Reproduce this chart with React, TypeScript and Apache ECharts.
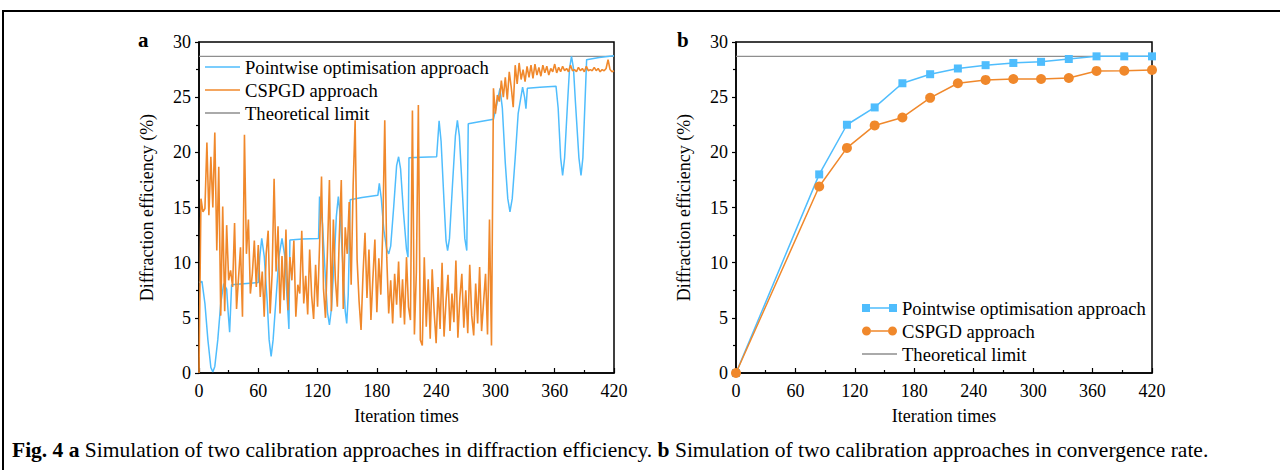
import React, { useEffect, useRef } from "react";
import * as echarts from "echarts";

const FONT = "Liberation Serif";
const BLUE = "#4FBDFD";
const ORANGE = "#F0882B";
const GREY = "#8E8E8E";

const SERIES_NAMES = ["Pointwise optimisation approach", "CSPGD approach", "Theoretical limit"];
const THEORETICAL_LIMIT = 28.7;
const X_MAX = 420;

// Panel a: pointwise optimisation (iteration, efficiency)
const pointwiseA: [number, number][] = [
  [0, 8.2], [3, 8.3], [6, 6.3], [9, 3.0], [12, 0.5], [14, 0.1], [16, 0.6], [19, 3.0], [22, 6.3], [25, 8.1],
  [28, 7.6], [29.5, 5.5], [31, 3.7], [33, 8.0], [45, 8.1], [60, 8.2],
  [61.5, 10.5], [63.5, 12.2], [66, 10.6], [69, 6.5], [71, 3.0], [73, 1.5], [75, 3.0], [78, 6.8], [81, 10.6], [84, 12.2],
  [87, 10.5], [89, 7.0], [91, 4.0], [92, 12.05], [105, 12.15], [121, 12.2],
  [122, 16.0], [125, 13.5], [128, 8.5], [130, 5.5], [132, 4.35], [134, 5.8], [137, 10.5], [139, 14.2], [141, 16.0],
  [143, 14.2], [146, 9.0], [148, 5.6], [149.5, 4.5], [151, 7.0], [152, 11.0], [153, 15.7],
  [165, 15.9], [181, 16.1], [182.5, 17.2], [184.5, 15.8], [187, 13.0], [190, 11.2], [192, 10.8], [194, 11.5],
  [197, 15.0], [200, 18.8], [202, 19.6], [204, 18.5], [207, 14.5], [210, 11.2], [211.5, 10.5], [212.5, 19.5],
  [225, 19.55], [240.5, 19.6],
  [243, 22.85], [245, 21.0], [248, 15.5], [250, 12.0], [251.6, 11.1], [253.5, 12.2], [256.5, 17.0], [259.5, 21.5],
  [261.5, 22.9], [263.5, 21.5], [266.5, 16.5], [269, 12.2], [271, 11.1], [272.5, 22.6], [285, 22.8], [298, 23.0],
  [301, 24.2], [304.6, 25.8], [307, 24.0], [310, 19.0], [312.5, 15.8], [314.7, 14.6], [317, 15.8], [320, 19.5],
  [323, 23.5], [327.5, 25.9], [329.5, 25.0], [330.9, 23.95], [332.3, 25.8], [345, 25.9], [361.3, 26.0],
  [363.5, 24.0], [366, 19.5], [368, 17.9], [370, 19.5], [373, 24.5], [375, 27.6], [377, 28.7], [379, 27.6],
  [381, 24.5], [384.5, 19.5], [386.6, 17.9], [388.5, 19.5], [392.3, 28.4], [405, 28.6], [420, 28.75],
];

// Panel a: CSPGD, one value every 2 iterations from 0 to 420
const CSPGD_STEP = 2;
const cspgdA: number[] = [
  0, 15.8, 14.6, 14.9, 20.9, 14.3, 19.6, 15.0, 21.8, 11.1,
  18.7, 5.2, 15.1, 5.6, 13.4, 8.4, 9.3, 7.8, 13.6, 5.8,
  8.6, 11.4, 5.1, 21.6, 10.8, 13.9, 7.2, 9.0, 12.0, 7.8,
  11.6, 6.9, 9.2, 5.1, 10.8, 12.9, 5.4, 9.0, 17.6, 9.2,
  13.3, 5.4, 10.6, 6.6, 13.0, 5.7, 10.5, 8.4, 12.0, 5.1,
  8.0, 7.2, 12.9, 6.3, 8.8, 5.3, 11.2, 7.0, 4.9, 9.8,
  6.0, 11.5, 17.8, 7.6, 5.0, 11.0, 17.5, 5.6, 13.9, 8.5,
  6.0, 12.4, 17.5, 5.8, 13.2, 10.8, 15.5, 8.0, 17.0, 22.9,
  10.3, 6.5, 3.9, 9.0, 12.7, 6.8, 11.2, 4.8, 8.6, 12.1,
  5.5, 10.4, 7.1, 13.0, 22.9, 10.5, 5.4, 8.4, 4.5, 9.0,
  6.2, 10.1, 5.0, 8.5, 4.4, 10.5, 6.0, 4.8, 23.8, 3.5,
  9.2, 24.3, 3.0, 2.5, 10.5, 4.2, 8.5, 3.1, 9.4, 5.5,
  2.7, 7.8, 4.0, 10.0, 3.3, 6.5, 8.9, 3.8, 7.2, 4.6,
  10.2, 3.2, 6.8, 9.0, 4.1, 7.5, 3.6, 9.8, 5.2, 3.4,
  8.1, 4.5, 9.6, 3.8, 6.4, 9.0, 3.5, 13.9, 2.5,
  25.8, 23.5, 25.2, 24.6, 26.5, 25.0, 26.8, 24.8, 27.3, 25.9,
  24.1, 27.9, 26.2, 28.1, 26.6, 27.5, 26.4, 27.8, 26.8, 27.9,
  26.7, 28.0, 27.0, 27.7, 26.9, 27.9, 27.2, 27.8, 27.0, 27.6,
  27.3, 28.0, 27.2, 27.7, 27.3, 27.8, 27.4, 27.6, 27.3, 27.9,
  27.4, 27.5, 27.3, 27.7, 27.4, 27.6, 27.3, 27.8, 27.4, 27.5,
  27.4, 27.7, 27.4, 27.6, 27.3, 27.5, 27.4, 27.6, 28.4, 27.5,
  27.3, 27.4,
];

// Panel b: convergence rate
const iterationsB = [0, 84, 112, 140, 168, 196, 224, 252, 280, 308, 336, 364, 392, 420];
const pointwiseB = [0, 18.0, 22.5, 24.07, 26.26, 27.08, 27.6, 27.9, 28.1, 28.2, 28.46, 28.7, 28.7, 28.7];
const cspgdB = [0, 16.9, 20.4, 22.44, 23.16, 24.94, 26.26, 26.56, 26.65, 26.65, 26.74, 27.38, 27.4, 27.47];

const textBase = { fontFamily: FONT, color: "#000" };

function makeXAxis(gridIndex: number) {
  return {
    type: "value",
    gridIndex,
    min: 0,
    max: X_MAX,
    interval: 60,
    name: "Iteration times",
    nameLocation: "middle",
    nameGap: 34,
    nameTextStyle: { ...textBase, fontSize: 18 },
    axisLine: { show: true, onZero: false, lineStyle: { color: "#000", width: 1.5 } },
    axisTick: { show: true, inside: true, length: 5, lineStyle: { color: "#000", width: 1.2 } },
    minorTick: { show: true, splitNumber: 2, length: 3, lineStyle: { color: "#000", width: 1.2 } },
    splitLine: { show: false },
    axisLabel: { ...textBase, fontSize: 18, margin: 9 },
  };
}

function makeYAxis(gridIndex: number) {
  return {
    type: "value",
    gridIndex,
    min: 0,
    max: 30,
    interval: 5,
    name: "Diffraction efficiency (%)",
    nameLocation: "middle",
    nameGap: 43,
    nameTextStyle: { ...textBase, fontSize: 18 },
    axisLine: { show: true, onZero: false, lineStyle: { color: "#000", width: 1.5 } },
    axisTick: { show: true, inside: false, length: 4, lineStyle: { color: "#000", width: 1.2 } },
    minorTick: { show: true, splitNumber: 2, length: 3, lineStyle: { color: "#000", width: 1.2 } },
    splitLine: { show: false },
    axisLabel: { ...textBase, fontSize: 18, margin: 8 },
  };
}

const LINE_ICON = "path://M0,0h35v1.5h-35z";
const SQUARE_ICON = "path://M0,0.5h8v8h-8z M8,3.75h19v1.5h-19z M27,0.5h8v8h-8z";
const CIRCLE_ICON =
  "path://M0,4.5a4.5,4.5 0 1,0 9,0a4.5,4.5 0 1,0 -9,0z M9,3.75h17v1.5h-17z M26,4.5a4.5,4.5 0 1,0 9,0a4.5,4.5 0 1,0 -9,0z";

export default function App() {
  const ref = useRef<HTMLDivElement>(null);

  useEffect(() => {
    if (!ref.current) return;
    const chart = echarts.init(ref.current, undefined, { renderer: "svg" });

    const cspgdPairs = cspgdA.map((v, i) => [i * CSPGD_STEP, v]);
    const limitPairs = [
      [0, THEORETICAL_LIMIT],
      [X_MAX, THEORETICAL_LIMIT],
    ];

    const legendText = { ...textBase, fontSize: 18.6, lineHeight: 20 };

    const option: any = {
      animation: false,
      backgroundColor: "#fff",
      textStyle: { fontFamily: FONT },
      grid: [
        { left: 199, top: 42, width: 415, height: 331, show: true, borderColor: "#000", borderWidth: 1.5, backgroundColor: "transparent" },
        { left: 736, top: 42, width: 416, height: 331, show: true, borderColor: "#000", borderWidth: 1.5, backgroundColor: "transparent" },
      ],
      xAxis: [makeXAxis(0), makeXAxis(1)],
      yAxis: [makeYAxis(0), makeYAxis(1)],
      legend: [
        {
          left: 205,
          top: 57,
          orient: "vertical",
          padding: 0,
          itemGap: 3,
          itemWidth: 35,
          itemHeight: 9,
          selectedMode: false,
          textStyle: legendText,
          data: SERIES_NAMES.map((n) => ({ name: n, icon: LINE_ICON })),
        },
        {
          left: 862,
          top: 298,
          orient: "vertical",
          padding: 0,
          itemGap: 3,
          itemWidth: 35,
          itemHeight: 9,
          selectedMode: false,
          textStyle: legendText,
          data: [
            { name: SERIES_NAMES[0], icon: SQUARE_ICON },
            { name: SERIES_NAMES[1], icon: CIRCLE_ICON },
            { name: SERIES_NAMES[2], icon: LINE_ICON },
          ],
        },
      ],
      series: [
        {
          name: SERIES_NAMES[0], type: "line", xAxisIndex: 0, yAxisIndex: 0, data: pointwiseA,
          symbol: "none", color: BLUE, lineStyle: { color: BLUE, width: 1.5 }, z: 2,
        },
        {
          name: SERIES_NAMES[1], type: "line", xAxisIndex: 0, yAxisIndex: 0, data: cspgdPairs,
          symbol: "none", color: ORANGE, lineStyle: { color: ORANGE, width: 1.6 }, z: 3,
        },
        {
          name: SERIES_NAMES[2], type: "line", xAxisIndex: 0, yAxisIndex: 0, data: limitPairs,
          symbol: "none", color: GREY, lineStyle: { color: GREY, width: 1.3 }, z: 1,
        },
        {
          name: SERIES_NAMES[0], type: "line", xAxisIndex: 1, yAxisIndex: 1,
          data: iterationsB.map((x, i) => [x, pointwiseB[i]]),
          symbol: "rect", symbolSize: 8, color: BLUE, lineStyle: { color: BLUE, width: 1.5 },
          itemStyle: { color: BLUE }, clip: false, z: 3,
        },
        {
          name: SERIES_NAMES[1], type: "line", xAxisIndex: 1, yAxisIndex: 1,
          data: iterationsB.map((x, i) => [x, cspgdB[i]]),
          symbol: "circle", symbolSize: 10, color: ORANGE, lineStyle: { color: ORANGE, width: 1.5 },
          itemStyle: { color: ORANGE }, clip: false, z: 3,
        },
        {
          name: SERIES_NAMES[2], type: "line", xAxisIndex: 1, yAxisIndex: 1, data: limitPairs,
          symbol: "none", color: GREY, lineStyle: { color: GREY, width: 1.3 }, z: 1,
        },
      ],
      graphic: [
        {
          type: "rect",
          silent: true,
          shape: { x: 3, y: 11, width: 1300, height: 500 },
          style: { fill: "none", stroke: "#000", lineWidth: 2 },
        },
        {
          type: "text",
          left: 138,
          top: 29,
          style: { text: "a", fontFamily: FONT, fontSize: 21, fontWeight: "bold", fill: "#000" },
        },
        {
          type: "text",
          left: 677,
          top: 29,
          style: { text: "b", fontFamily: FONT, fontSize: 21, fontWeight: "bold", fill: "#000" },
        },
        {
          type: "text",
          left: 12,
          top: 439,
          style: {
            text:
              "{b|Fig. 4 a} Simulation of two calibration approaches in diffraction efficiency. {b|b} Simulation of two calibration approaches in convergence rate.",
            fontFamily: FONT,
            fontSize: 21.5,
            fill: "#000",
            rich: {
              b: { fontFamily: FONT, fontSize: 21.5, fontWeight: "bold", fill: "#000" },
            },
          },
        },
      ],
    };

    chart.setOption(option);
    return () => chart.dispose();
  }, []);

  return (
    <div
      ref={ref}
      style={{ position: "absolute", left: 0, top: 0, width: 1280, height: 470, background: "#fff" }}
    />
  );
}
